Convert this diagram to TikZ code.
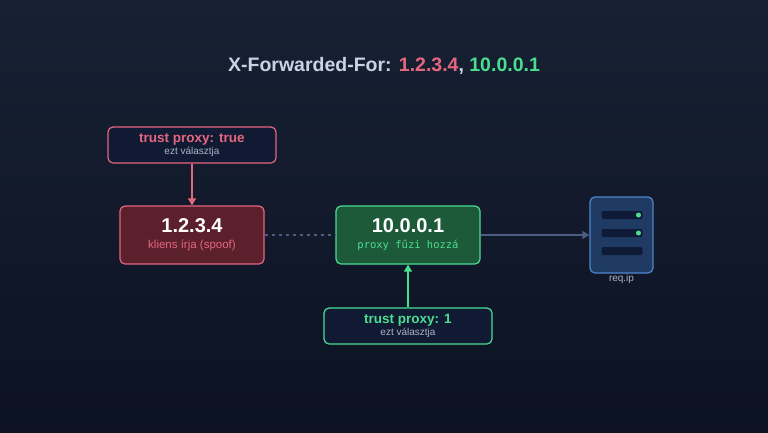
\documentclass[tikz,border=0pt]{standalone}
\usepackage{fontspec}
\setmainfont{Liberation Sans}
\newfontfamily\monof{DejaVu Sans Mono}
\usetikzlibrary{arrows.meta}
\definecolor{bgA}{HTML}{172133}
\definecolor{bgB}{HTML}{0C1222}
\definecolor{pinkc}{HTML}{E5677F}
\definecolor{redf}{HTML}{5C1F2C}
\definecolor{greenc}{HTML}{4ADE90}
\definecolor{greenf}{HTML}{1D5A3A}
\definecolor{navyf}{HTML}{111A33}
\definecolor{srvf}{HTML}{1F3A63}
\definecolor{srvb}{HTML}{4F86CC}
\definecolor{slot}{HTML}{0F1A36}
\definecolor{linec}{HTML}{4C5D80}
\definecolor{subt}{HTML}{AAB4C8}
\definecolor{titlec}{HTML}{C9D3E6}
\tikzset{
 box/.style={draw, rounded corners=5pt, line width=1.2pt, align=center, inner sep=0pt},
 arr/.style={-{Triangle[length=7pt,width=8pt]}, line width=1.5pt},
}
\begin{document}
\begin{tikzpicture}[x=1pt,y=-1pt]
\useasboundingbox (0,0) rectangle (768,432);
\shade[top color=bgA, bottom color=bgB] (0,0) rectangle (768,432);
\node (title) at (384,66) {\fontsize{19.5}{24}\selectfont\bfseries\color{titlec}X-Forwarded-For: \color{pinkc}1.2.3.4\color{titlec}, \color{greenc}10.0.0.1};
\node[box, draw=pinkc, fill=navyf, minimum width=168pt, minimum height=36pt] (tt) at (192,145) {{\fontsize{13.5}{15}\selectfont\bfseries\color{pinkc}trust proxy: true}\\[0pt]{\fontsize{10}{11}\selectfont\color{subt}ezt választja}};
\node[box, draw=pinkc, fill=redf, minimum width=144pt, minimum height=58pt] (cl) at (192,235) {{\fontsize{20}{24}\selectfont\bfseries\color{white}1.2.3.4}\\[4pt]{\fontsize{11.5}{13}\selectfont\color{pinkc}kliens írja (spoof)}};
\node[box, draw=greenc, fill=greenf, minimum width=144pt, minimum height=58pt] (px) at (408,235) {{\fontsize{20}{24}\selectfont\bfseries\color{white}10.0.0.1}\\[4pt]{\fontsize{10.5}{13}\selectfont\monof\color{greenc}proxy fűzi hozzá}};
\node[box, draw=greenc, fill=navyf, minimum width=168pt, minimum height=36pt] (t1) at (408,326) {{\fontsize{13.5}{15}\selectfont\bfseries\color{greenc}trust proxy: 1}\\[0pt]{\fontsize{10}{11}\selectfont\color{subt}ezt választja}};
\node[box, draw=srvb, fill=srvf, minimum width=63pt, minimum height=76pt] (sv) at (621.5,235) {};
\foreach \yy/\dt in {20/1,2/1,-16/0}{
  \fill[slot, rounded corners=2pt] ([xshift=-20pt,yshift=\yy pt]sv.center) ++(0,-4) rectangle ++(41,8);
  \ifnum\dt=1 \fill[greenc] ([xshift=17pt,yshift=\yy pt]sv.center) circle (2.5pt);\fi
}
\node[font=\fontsize{10}{12}\selectfont, text=subt] (lbl) at (621.5,279) {req.ip};
\draw[linec, line width=1.2pt, dash pattern=on 3pt off 4pt] (cl.east) -- (px.west);
\draw[linec, -{Triangle[length=7pt,width=8pt]}, line width=1.5pt] (px.east) -- (sv.west);
\draw[arr, pinkc] (tt.south) -- (cl.north);
\draw[arr, greenc] (t1.north) -- (px.south);
\end{tikzpicture}
\end{document}
